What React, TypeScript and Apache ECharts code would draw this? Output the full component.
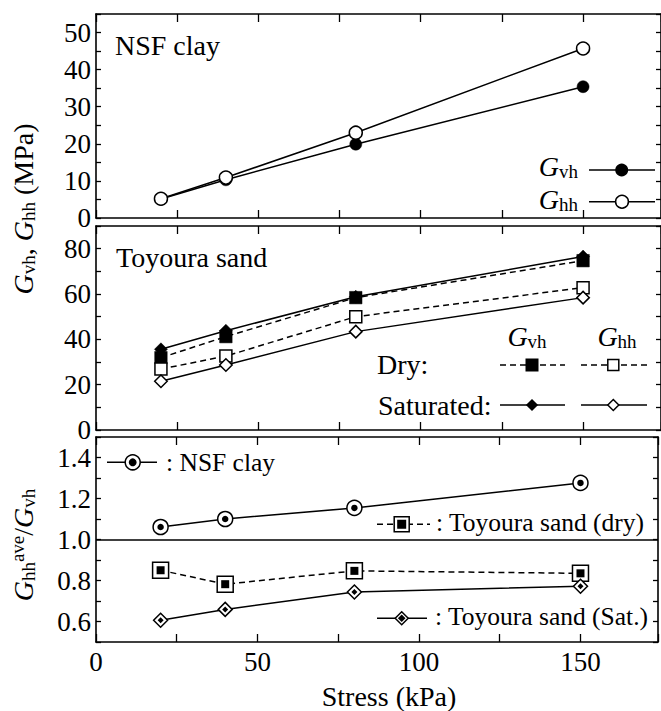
import React, { useEffect, useRef } from "react";
import * as echarts from "echarts";

// Confining stress (kPa) at which each specimen was tested
const stress = [20, 40, 80, 150];

// NSF clay shear moduli (MPa)
const clayGvh = [5.1, 10.3, 19.9, 35.4];
const clayGhh = [5.2, 10.9, 23.0, 45.7];

// Toyoura sand shear moduli (MPa)
const dryGvh = [31.9, 41.2, 58.4, 74.7];
const dryGhh = [26.9, 32.6, 50.0, 62.8];
const satGvh = [35.6, 43.8, 58.8, 76.5];
const satGhh = [21.5, 28.7, 43.4, 58.4];

// Anisotropy ratio Ghh(ave)/Gvh
const ratioClay = [1.061, 1.1, 1.154, 1.276];
const ratioDry = [0.85, 0.782, 0.847, 0.835];
const ratioSat = [0.606, 0.659, 0.744, 0.772];

// Labelled ticks
const xTickLabels = [0, 50, 100, 150];
const yTickLabelsClay = [0, 10, 20, 30, 40, 50];
const yTickLabelsSand = [0, 20, 40, 60, 80];
const yTickLabelsRatio = [0.6, 0.8, 1.0, 1.2, 1.4];

const FONT = "'Liberation Serif', 'Times New Roman', serif";
const BLACK = "#000";
const FS = 28;
const TICK_FS = 27;

const grids = [
  { left: 96, top: 14, width: 567, height: 204 },
  { left: 96, top: 226, width: 567, height: 204 },
  { left: 96, top: 437, width: 567, height: 205 },
];

const pick = (labels: number[], v: number, digits: number) => {
  const m = labels.find((l) => Math.abs(l - v) < 1e-6);
  return m === undefined ? "" : m.toFixed(digits);
};

const xAxis = (gridIndex: number, position: string, showLabels: boolean) => ({
  type: "value",
  gridIndex,
  position,
  min: 0,
  max: 174,
  interval: 25,
  axisLine: { show: true, onZero: false, lineStyle: { color: BLACK, width: 1.6 } },
  axisTick: { show: true, inside: true, length: 8, lineStyle: { color: BLACK, width: 1.3 } },
  axisLabel: {
    show: showLabels,
    margin: 6,
    fontFamily: FONT,
    fontSize: TICK_FS,
    color: BLACK,
    formatter: (v: number) => pick(xTickLabels, v, 0),
  },
  splitLine: { show: false },
});

const yAxis = (
  gridIndex: number,
  position: string,
  min: number,
  max: number,
  interval: number,
  labels: number[],
  digits: number,
  showLabels: boolean
) => ({
  type: "value",
  gridIndex,
  position,
  min,
  max,
  interval,
  axisLine: { show: true, onZero: false, lineStyle: { color: BLACK, width: 1.6 } },
  axisTick: { show: true, inside: true, length: 5, lineStyle: { color: BLACK, width: 1.3 } },
  axisLabel: {
    show: showLabels,
    margin: 5,
    fontFamily: FONT,
    fontSize: TICK_FS,
    color: BLACK,
    formatter: (v: number) => pick(labels, v, digits),
  },
  splitLine: { show: false },
});

const series = (
  values: number[],
  axis: number,
  symbol: string,
  size: number | number[],
  filled: boolean,
  dashed: boolean,
  z: number,
  extra: any = {}
) => ({
  type: "line",
  xAxisIndex: axis,
  yAxisIndex: axis,
  data: stress.map((s, i) => [s, values[i]]),
  symbol,
  symbolSize: size,
  showSymbol: true,
  silent: true,
  z,
  lineStyle: { color: BLACK, width: 1.5, type: dashed ? [6, 4] : "solid" },
  itemStyle: { color: filled ? BLACK : "#fff", borderColor: BLACK, borderWidth: filled ? 0.5 : 1.5 },
  emphasis: { disabled: true },
  ...extra,
});

// small filled marks drawn inside the open ratio markers
const dots = (values: number[], axis: number, symbol: string, size: number, z: number) => ({
  type: "scatter",
  xAxisIndex: axis,
  yAxisIndex: axis,
  data: stress.map((s, i) => [s, values[i]]),
  symbol,
  symbolSize: size,
  silent: true,
  z,
  itemStyle: { color: BLACK, opacity: 1 },
  emphasis: { disabled: true },
});

const richG = (sub: number, sup = 16) => ({
  i: { fontFamily: FONT, fontStyle: "italic", fontSize: FS, lineHeight: 30, fill: BLACK },
  n: { fontFamily: FONT, fontSize: FS, lineHeight: 30, fill: BLACK },
  s: { fontFamily: FONT, fontSize: 19, lineHeight: sub, verticalAlign: "bottom", fill: BLACK },
  p: { fontFamily: FONT, fontSize: 19, lineHeight: sup, verticalAlign: "top", fill: BLACK },
});

const text = (x: number, y: number, str: string, align = "left", size = FS) => ({
  type: "text",
  x,
  y,
  z: 100,
  silent: true,
  style: { text: str, fontFamily: FONT, fontSize: size, fill: BLACK, align, verticalAlign: "middle" },
});

const gText = (x: number, y: number, str: string, align = "right", sub = 14, rotation = 0, sup = 16) => ({
  type: "text",
  x,
  y,
  z: 100,
  rotation,
  silent: true,
  style: { text: str, rich: richG(sub, sup), align, verticalAlign: "middle", fill: BLACK },
});

const seg = (x1: number, x2: number, y: number, dashed: boolean) => ({
  type: "line",
  z: 100,
  silent: true,
  shape: { x1, y1: y, x2, y2: y },
  style: { stroke: BLACK, lineWidth: 1.5, lineDash: dashed ? [6, 4] : null },
});

const circle = (cx: number, cy: number, r: number, filled: boolean) => ({
  type: "circle",
  z: 101,
  silent: true,
  shape: { cx, cy, r },
  style: { fill: filled ? BLACK : "#fff", stroke: BLACK, lineWidth: 1.5 },
});

const square = (cx: number, cy: number, s: number, filled: boolean) => ({
  type: "rect",
  z: 101,
  silent: true,
  shape: { x: cx - s / 2, y: cy - s / 2, width: s, height: s },
  style: { fill: filled ? BLACK : "#fff", stroke: BLACK, lineWidth: 1.5 },
});

const diamond = (cx: number, cy: number, w: number, h: number, filled: boolean) => ({
  type: "polygon",
  z: 101,
  silent: true,
  shape: { points: [[cx, cy - h / 2], [cx + w / 2, cy], [cx, cy + h / 2], [cx - w / 2, cy]] },
  style: { fill: filled ? BLACK : "#fff", stroke: BLACK, lineWidth: 1.5 },
});

export default function App() {
  const ref = useRef<HTMLDivElement>(null);

  useEffect(() => {
    if (!ref.current) return;
    const chart = echarts.init(ref.current, null, { renderer: "svg" });

    const option: any = {
      animation: false,
      backgroundColor: "#fff",
      textStyle: { fontFamily: FONT },
      grid: grids,
      xAxis: [
        xAxis(0, "bottom", false),
        xAxis(0, "top", false),
        xAxis(1, "bottom", false),
        xAxis(1, "top", false),
        xAxis(2, "bottom", true),
        xAxis(2, "top", false),
      ],
      yAxis: [
        yAxis(0, "left", 0, 55, 5, yTickLabelsClay, 0, true),
        yAxis(0, "right", 0, 55, 5, yTickLabelsClay, 0, false),
        yAxis(1, "left", 0, 90, 10, yTickLabelsSand, 0, true),
        yAxis(1, "right", 0, 90, 10, yTickLabelsSand, 0, false),
        yAxis(2, "left", 0.5, 1.5, 0.1, yTickLabelsRatio, 1, true),
        yAxis(2, "right", 0.5, 1.5, 0.1, yTickLabelsRatio, 1, false),
      ],
      series: [
        // NSF clay
        series(clayGvh, 0, "circle", 12, true, false, 2),
        series(clayGhh, 0, "circle", 13, false, false, 3),
        // Toyoura sand
        series(satGvh, 2, "diamond", 13, true, false, 2),
        series(dryGvh, 2, "rect", 12.5, true, true, 3),
        series(dryGhh, 2, "rect", 12, false, true, 4),
        series(satGhh, 2, "diamond", 12.5, false, false, 5),
        // Ratio panel
        series(ratioClay, 4, "circle", 15, false, false, 2, {
          markLine: {
            silent: true,
            symbol: ["none", "none"],
            label: { show: false },
            lineStyle: { color: BLACK, width: 1.6, type: "solid" },
            data: [{ yAxis: 1.0 }],
          },
        }),
        dots(ratioClay, 4, "circle", 6.5, 3),
        series(ratioDry, 4, "rect", 16, false, true, 2),
        dots(ratioDry, 4, "rect", 8, 3),
        series(ratioSat, 4, "diamond", 14, false, false, 4),
        dots(ratioSat, 4, "diamond", 6, 5),
      ],
      graphic: [
        // axis titles
        gText(23, 209, "{i|G}{s|vh}{n|, }{i|G}{s|hh}{n| (MPa)}", "center", 14, Math.PI / 2),
        gText(23, 545, "{i|G}{s|hh}{p|ave}{n|/}{i|G}{s|vh}", "center", 18, Math.PI / 2, 16),
        text(389, 696, "Stress (kPa)", "center"),

        // panel titles
        text(115, 45, "NSF clay"),
        text(116, 257, "Toyoura sand"),

        // clay legend
        gText(578, 166, "{i|G}{s|vh}"),
        seg(589, 655, 170, false),
        circle(621.7, 170, 5.7, true),
        gText(578, 199, "{i|G}{s|hh}"),
        seg(589, 655, 201.7, false),
        circle(622, 201.7, 6.4, false),

        // sand legend
        gText(527, 336, "{i|G}{s|vh}", "center"),
        gText(617, 336, "{i|G}{s|hh}", "center"),
        text(377, 364, "Dry:"),
        seg(500, 565, 365, true),
        square(532, 365, 11.5, true),
        seg(581, 647, 365, true),
        square(613.3, 365, 11, false),
        text(378, 405, "Saturated:"),
        seg(500, 565, 405, false),
        diamond(532, 405, 10, 10, true),
        seg(581, 647, 405, false),
        diamond(613.3, 405, 11, 11, false),

        // ratio legend
        seg(107, 157, 462.3, false),
        circle(132.7, 462.3, 7.5, false),
        circle(132.7, 462.3, 3.2, true),
        text(166, 462, ": NSF clay", "left", 25.5),
        seg(377, 430, 524.3, true),
        square(401.7, 524.3, 15, false),
        square(401.7, 524.3, 7.5, true),
        text(436, 522, ": Toyoura sand (dry)", "left", 25.5),
        seg(377, 427, 618.3, false),
        diamond(401.7, 618.3, 13, 13, false),
        diamond(401.7, 618.3, 5.5, 5.5, true),
        text(435, 616, ": Toyoura sand (Sat.)", "left", 25.5),
      ],
    };

    chart.setOption(option);
    return () => chart.dispose();
  }, []);

  return (
    <div
      ref={ref}
      style={{ position: "fixed", left: 0, top: 0, width: 661, height: 711, background: "#fff" }}
    />
  );
}
